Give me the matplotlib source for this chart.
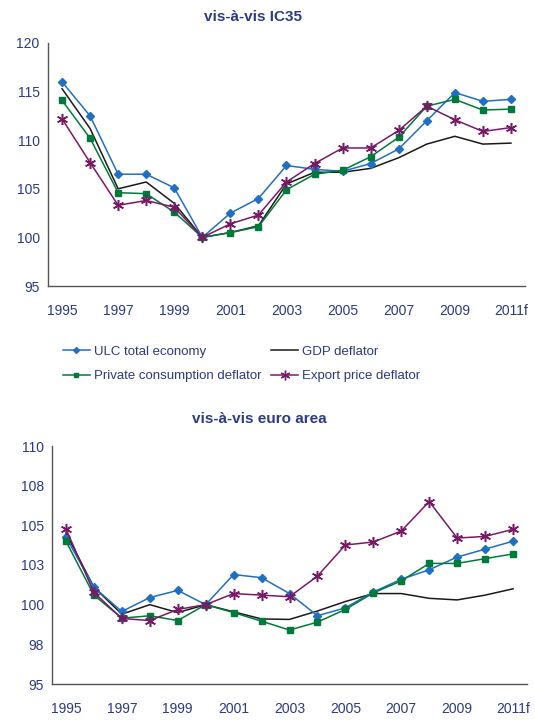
import matplotlib
matplotlib.use("Agg")
import matplotlib.pyplot as plt
from matplotlib.lines import Line2D

# ---- data ----
years = list(range(1995, 2012))
year_ticks = [1995, 1997, 1999, 2001, 2003, 2005, 2007, 2009, 2011]
year_labels = ["1995", "1997", "1999", "2001", "2003", "2005", "2007", "2009", "2011f"]

# vis-a-vis IC35
ic35_ulc = [116.0, 112.5, 106.5, 106.5, 105.1, 100.0, 102.5, 104.0, 107.4, 107.0,
            106.8, 107.6, 109.1, 112.0, 114.9, 114.0, 114.2]
ic35_gdp = [115.3, 111.2, 105.0, 105.7, 103.5, 100.0, 100.5, 101.2, 105.5, 106.7,
            106.7, 107.1, 108.2, 109.6, 110.4, 109.6, 109.7]
ic35_pcd = [114.1, 110.2, 104.6, 104.5, 102.6, 100.0, 100.5, 101.1, 104.9, 106.5,
            106.9, 108.3, 110.3, 113.5, 114.2, 113.1, 113.2]
ic35_exp = [112.2, 107.7, 103.3, 103.8, 103.1, 100.0, 101.4, 102.3, 105.7, 107.6,
            109.2, 109.2, 111.0, 113.5, 112.1, 110.9, 111.3]

# vis-a-vis euro area
ea_ulc = [104.25, 101.1, 99.57, 100.45, 100.9, 100.0, 101.9, 101.7, 100.7, 99.3,
          99.8, 100.8, 101.6, 102.2, 103.0, 103.5, 104.0]
ea_gdp = [104.5, 101.1, 99.4, 100.0, 99.5, 100.0, 99.55, 99.1, 99.07, 99.6,
          100.2, 100.7, 100.7, 100.4, 100.3, 100.6, 101.0]
ea_pcd = [104.0, 100.6, 99.15, 99.3, 99.0, 100.0, 99.5, 98.96, 98.4, 98.9,
          99.7, 100.74, 101.5, 102.6, 102.6, 102.9, 103.2]
ea_exp = [104.77, 100.77, 99.13, 99.0, 99.7, 100.0, 100.7, 100.6, 100.5, 101.8,
          103.76, 103.95, 104.64, 106.5, 104.2, 104.3, 104.75]

labels = ["ULC total economy", "GDP deflator",
          "Private consumption deflator", "Export price deflator"]

# ---- style ----
plt.rcParams['font.family'] = ['Liberation Sans', 'DejaVu Sans']
TXT = '#2B3A86'
BLUE = '#1F6FC4'
GREEN = '#007A3A'
PURPLE = '#7A1868'
BLACK = '#1A1A1A'
STAR = (6, 2, 0)

fig = plt.figure(figsize=(5.35, 7.22), dpi=100)
W, H = 535, 722


def add_ax(left, top, right, bottom):
    return fig.add_axes([left / W, 1 - bottom / H, (right - left) / W, (bottom - top) / H])


def draw(ax, ulc, gdp, pcd, exp):
    ax.plot(years, ulc, color=BLUE, lw=1.1, marker='D', ms=3.8, zorder=4)
    ax.plot(years, gdp, color=BLACK, lw=1.1, zorder=3)
    ax.plot(years, pcd, color=GREEN, lw=1.1, marker='s', ms=4, zorder=4)
    ax.plot(years, exp, color=PURPLE, lw=1.1, marker=STAR, ms=8, mew=1.1, zorder=5)
    ax.set_xlim(1994.5, 2011.5)
    ax.set_xticks(year_ticks)
    ax.set_xticklabels(year_labels)
    for s in ['top', 'right']:
        ax.spines[s].set_visible(False)
    for s in ['left', 'bottom']:
        ax.spines[s].set_color('#555555')
        ax.spines[s].set_linewidth(1.0)
    ax.tick_params(length=0, labelsize=10, colors=TXT)
    ax.tick_params(axis='x', pad=13)
    ax.tick_params(axis='y', pad=6)


ax1 = add_ax(48, 43, 525, 286)
draw(ax1, ic35_ulc, ic35_gdp, ic35_pcd, ic35_exp)
ax1.set_ylim(95, 120)
ax1.set_yticks([95, 100, 105, 110, 115, 120])
fig.text(253 / W, 1 - 17 / H, "vis-à-vis IC35", ha='center', va='center',
         fontsize=11, fontweight='bold', color=TXT)

ax2 = add_ax(52, 446, 527, 684)
draw(ax2, ea_ulc, ea_gdp, ea_pcd, ea_exp)
ax2.set_ylim(95, 110)
ax2.set_yticks([95, 97.5, 100, 102.5, 105, 107.5, 110])
ax2.set_yticklabels(["95", "98", "100", "103", "105", "108", "110"])
fig.text(259 / W, 1 - 419 / H, "vis-à-vis euro area", ha='center', va='center',
         fontsize=11, fontweight='bold', color=TXT)

h_ulc = Line2D([], [], color=BLUE, lw=1.1, marker='D', ms=3)
h_gdp = Line2D([], [], color=BLACK, lw=1.1)
h_pcd = Line2D([], [], color=GREEN, lw=1.1, marker='s', ms=3.5)
h_exp = Line2D([], [], color=PURPLE, lw=1.1, marker=STAR, ms=7)
# legend fills column-wise: put ULC/Private in col 1, GDP/Export in col 2
leg = fig.legend([h_ulc, h_pcd, h_gdp, h_exp],
                 [labels[0], labels[2], labels[1], labels[3]],
                 ncol=2, loc='center left',
                 bbox_to_anchor=(51 / W, 1 - 364 / H), frameon=False,
                 fontsize=9.5, handlelength=2.05, handletextpad=0.3,
                 columnspacing=0.75, labelspacing=0.9)
for t in leg.get_texts():
    t.set_color(TXT)

fig.savefig("out.png", dpi=100)
